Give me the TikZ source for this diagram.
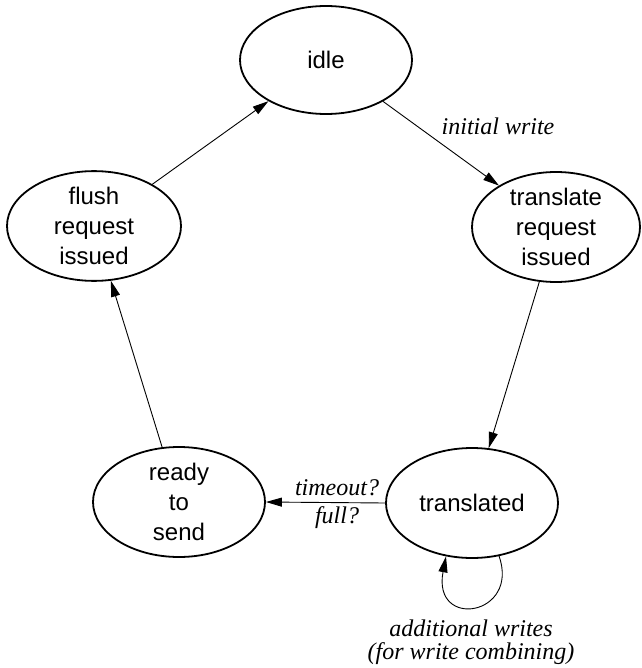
\documentclass[tikz,border=0pt]{standalone}
\usepackage{fontspec}
\setmainfont{Liberation Serif}
\setsansfont{Liberation Sans}
\usetikzlibrary{shapes.geometric,arrows.meta}
\tikzset{
  state/.style={ellipse, draw, line width=1.8pt, minimum width=172pt, minimum height=108pt,
    inner sep=0pt, align=center, font=\sffamily\fontsize{24}{30}\selectfont},
  trans/.style={line width=0.9pt, -{Triangle[length=16pt,width=9pt]}},
  lbl/.style={anchor=base, inner sep=0pt, font=\itshape\fontsize{24}{29}\selectfont}
}
\begin{document}
\begin{tikzpicture}[x=1pt,y=-1pt]
\useasboundingbox (0,0) rectangle (641,668);
\node[state] (idle) at (326,60) {idle};
\node[state, minimum width=168pt, minimum height=110pt] (trq) at (556,227) {translate\\request\\issued};
\node[state, minimum width=174pt] (frq) at (94,226) {flush\\request\\issued};
\node[state, minimum height=110pt] (tr) at (472,503) {translated};
\node[state, minimum height=110pt] (rts) at (179,502) {ready\\to\\send};

\draw[trans] (idle) -- (trq);
\draw[trans] (trq) -- (tr);
\draw[trans] (tr.west) -- (rts.east);
\draw[trans] (rts) -- (frq);
\draw[trans] (frq) -- (idle);
\draw[trans] (tr.-63) .. controls (520,616) and (432,630) .. (tr.-116);

\node[lbl] (l1) at (498,135) {initial write};
\node[lbl] (l2) at (337,495) {timeout?};
\node[lbl] (l3) at (337,523) {full?};
\node[lbl] (l4) at (471,636) {additional writes};
\node[lbl] (l5) at (471,659) {(for write combining)};
\end{tikzpicture}
\end{document}
